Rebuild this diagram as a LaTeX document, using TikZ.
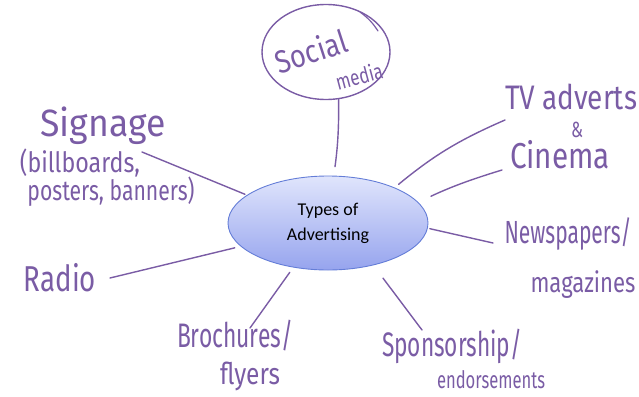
\documentclass[tikz,border=0pt]{standalone}
\usepackage{fontspec}
\usepackage{graphicx}
\newfontfamily\handfont{Fira Sans}
\newfontfamily\calfont{Carlito}
\usetikzlibrary{shapes.geometric}
\definecolor{ink}{RGB}{122,92,165}
\definecolor{headblue}{RGB}{64,96,208}
\definecolor{ovaltop}{RGB}{224,229,252}
\definecolor{ovalbottom}{RGB}{150,164,238}
\definecolor{ovalline}{RGB}{100,125,215}
% handwritten-looking label: set at a size, then squeezed to a width
\newcommand{\hw}[3]{\resizebox{#1pt}{\height}{\fontsize{#2}{#2}\selectfont\handfont #3}}

\begin{document}
\begin{tikzpicture}[x=1pt,y=-1pt,
  hand/.style={text=ink, inner sep=0pt},
  spoke/.style={draw=ink, line width=1.4pt, line cap=round},
  hub/.style={ellipse, minimum width=200pt, minimum height=94pt,
    top color=ovaltop, bottom color=ovalbottom, draw=ovalline, line width=0.9pt,
    align=center, font=\calfont\fontsize{18}{25}\selectfont},
  ring/.style={ellipse, draw=ink, line width=1.4pt, minimum width=128pt, minimum height=95pt}]
\clip (0,0) rectangle (639,396);

% heading, mostly above the page
\node[anchor=base west, text=headblue, inner sep=0pt,
  font=\calfont\bfseries\fontsize{53}{60}\selectfont] (title) at (-27,-10) {Types of Advertising};

% central oval
\node[hub] (ell) at (328,223) {Types of\\Advertising};

% social media bubble
\node[ring] (soc) at (326,52) {};
\draw[ink, line width=1.2pt, line cap=round] (360,12) to[bend left=10] (378,31);
\node[hand, rotate=18] (so1) at (311,51) {\hw{74}{32}{Social}};
\node[hand, rotate=15] (so2) at (359,76) {\hw{48}{22}{media}};

% labels
\node[hand] (sig1) at (103,126) {\hw{125}{38}{Signage}};
\node[hand] (sig2) at (80,163) {\hw{120}{28}{(billboards,}};
\node[hand] (sig3) at (111,192) {\hw{167}{28}{posters, banners)}};
\node[hand] (tv1) at (571,97) {\hw{132}{34}{TV adverts}};
\node[hand] (tv2) at (577,130) {\hw{12}{22}{\&}};
\node[hand] (tv3) at (560,155) {\hw{100}{36}{Cinema}};
\node[hand] (np1) at (568,234) {\hw{127}{32}{Newspapers/}};
\node[hand] (np2) at (583,285) {\hw{105}{28}{magazines}};
\node[hand] (rad) at (60,278) {\hw{72}{36}{Radio}};
\node[hand] (br1) at (235,336) {\hw{116}{34}{Brochures/}};
\node[hand] (br2) at (250,376) {\hw{60}{30}{flyers}};
\node[hand] (sp1) at (452,346) {\hw{140}{34}{Sponsorship/}};
\node[hand] (sp2) at (491,380) {\hw{108}{24}{endorsements}};

% loose ends of the spokes, next to their labels
\coordinate (sigend) at (142,152);
\coordinate (tvend) at (505,120);
\coordinate (cinend) at (502,170);
\coordinate (npend) at (493,243);
\coordinate (radend) at (110,278);
\coordinate (brend) at (250,328);
\coordinate (spend) at (422,330);

% spokes
\draw[spoke, shorten >=9pt] (soc.-75) to[bend left=4] (ell.83);
\draw[spoke, shorten >=2pt] (sigend) -- (ell.161);
\draw[spoke, shorten >=5pt] (tvend) to[bend right=8] (ell.28.5);
\draw[spoke, shorten >=14pt] (cinend) to[bend right=4] (ell.13.8);
\draw[spoke, shorten >=2pt] (npend) -- (ell.-3.4);
\draw[spoke, shorten >=6pt] (radend) -- (ell.195);
\draw[spoke, shorten >=6pt] (brend) -- (ell.232);
\draw[spoke, shorten >=16pt] (spend) -- (ell.-43.4);
\end{tikzpicture}
\end{document}
